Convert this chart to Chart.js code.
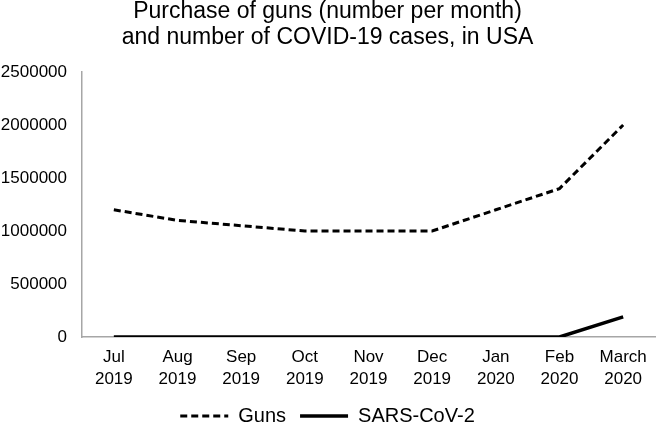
<!DOCTYPE html>
<html>
<head>
<meta charset="utf-8">
<script src="https://cdn.jsdelivr.net/npm/chart.js@4/dist/chart.umd.min.js"></script>
<style>
html,body{margin:0;padding:0;background:#fff;overflow:hidden;}
#wrap{width:657px;height:424px;}
</style>
</head>
<body>
<div id="wrap"><canvas id="c" width="657" height="424"></canvas></div>
<script>
const categories = [["Jul","2019"],["Aug","2019"],["Sep","2019"],["Oct","2019"],["Nov","2019"],["Dec","2019"],["Jan","2020"],["Feb","2020"],["March","2020"]];
const guns = [1200000,1100000,1050000,1000000,1000000,1000000,1200000,1400000,2000000];
const sarsCov2 = [0,0,0,0,0,0,0,0,190000];
const yTicks = [0,500000,1000000,1500000,2000000,2500000];
const titleLines = ["Purchase of guns (number per month)","and number of COVID-19 cases, in USA"];

Chart.defaults.font.family = "'Liberation Sans', Arial, sans-serif";
Chart.defaults.color = "#000";

const defaultLabels = Chart.defaults.plugins.legend.labels.generateLabels;

new Chart(document.getElementById('c'), {
  type: 'line',
  data: {
    labels: categories,
    datasets: [
      {label: 'Guns', data: guns, borderColor: '#000', backgroundColor: '#000', borderWidth: 3, borderDash: [7,4], pointRadius: 0, tension: 0},
      {label: 'SARS-CoV-2', data: sarsCov2, borderColor: '#000', backgroundColor: '#000', borderWidth: 3.5, pointRadius: 0, tension: 0}
    ]
  },
  options: {
    responsive: false,
    animation: false,
    layout: {padding: {left: 0, right: 2, top: -1, bottom: -12}},
    plugins: {
      title: {display: true, text: titleLines, font: {size: 23, weight: 'normal', lineHeight: 1.13}, color: '#000', padding: {top: 0, bottom: 21}},
      legend: {
        position: 'bottom',
        labels: {
          usePointStyle: true, pointStyle: 'line', pointStyleWidth: 48, boxWidth: 48, boxHeight: 20,
          font: {size: 20}, color: '#000', padding: 14,
          generateLabels: (chart) => defaultLabels(chart).map(item => {
            const ds = chart.data.datasets[item.datasetIndex];
            item.lineDash = ds.borderDash || [];
            item.lineWidth = ds.borderWidth;
            item.strokeStyle = ds.borderColor;
            return item;
          })
        }
      },
      tooltip: {enabled: false}
    },
    scales: {
      x: {
        offset: true,
        afterFit: (s) => { s.height = 55; },
        grid: {display: false, drawTicks: false},
        border: {display: true, color: '#a6a6a6', width: 1.5},
        ticks: {font: {size: 17, lineHeight: 1.3}, color: '#000', maxRotation: 0, autoSkip: false, padding: 9}
      },
      y: {
        min: 0, max: 2500000,
        afterBuildTicks: (s) => { s.ticks = yTicks.map(v => ({value: v})); },
        afterFit: (s) => { s.width = 82; },
        grid: {display: false, drawTicks: false},
        border: {display: true, color: '#a6a6a6', width: 1.5},
        ticks: {font: {size: 17}, color: '#000', padding: 15, callback: (v) => String(v)}
      }
    }
  }
});
</script>
</body>
</html>
